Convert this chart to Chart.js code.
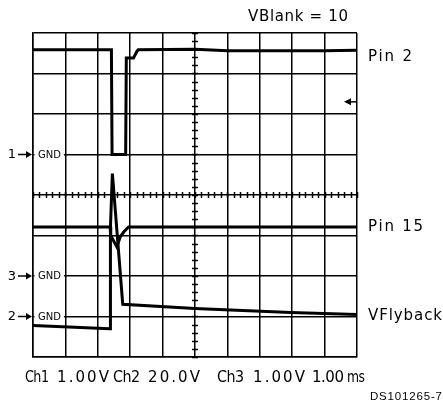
<!DOCTYPE html>
<html><head><meta charset="utf-8">
<script src="https://cdn.jsdelivr.net/npm/chart.js@4.4.0/dist/chart.umd.min.js"></script>
<style>html,body{margin:0;padding:0;background:#fff;}canvas{display:block;}</style>
</head><body>
<canvas id="c" width="443" height="401"></canvas>
<script>
// Oscilloscope traces, in screen divisions (x: 0..10, y: -4..4, 0 = centre line)
const pin2X = [0, 2.42, 2.44, 2.86, 2.88, 3.10, 3.21, 3.25, 5.0, 6.0, 9.0, 10];
const pin2Y = [3.585, 3.585, 1.0, 1.0, 3.38, 3.38, 3.55, 3.585, 3.60, 3.56, 3.56, 3.575];

const pin15X = [0, 2.38, 2.40, 2.59, 2.69, 2.80, 2.95, 10];
const pin15Y = [-0.79, -0.79, -1.0, -1.284, -1.037, -0.914, -0.79, -0.79];

const flyX = [0, 2.37, 2.39, 2.39, 2.45, 2.77, 5.0, 7.95, 10];
const flyY = [-3.225, -3.30, -3.30, -0.80, 0.53, -2.70, -2.80, -2.90, -2.95];

const seriesNames = ['Pin 2', 'Pin 15', 'VFlyback'];
const gndChannels = ['1', '3', '2'];
const gndLevels = [1, -2, -3];
const triggerLevel = 2.3;
const headerText = 'VBlank = 10';
const scopeSettings = ['Ch1', '1.00V', 'Ch2', '20.0V', 'Ch3', '1.00V', '1.00', 'ms'];
const figureId = 'DS101265-7';

function pts(xs, ys) { return xs.map((x, i) => ({x, y: ys[i]})); }

// draw text fitted to a width: letter spacing first, slight horizontal squeeze if needed
function fitText(ctx, text, x, y, w) {
  ctx.save();
  ctx.letterSpacing = '0px';
  const m = ctx.measureText(text).width;
  const n = Math.max(1, text.length - 1);
  let sp = (w - m) / n;
  let s = 1;
  if (sp < -0.6) { sp = -0.6; s = w / (m + sp * n); }
  ctx.letterSpacing = sp.toFixed(2) + 'px';
  ctx.translate(x, y);
  ctx.scale(s, 1);
  ctx.fillText(text, 0, 0);
  ctx.restore();
}

const scopePlugin = {
  id: 'scope',
  beforeDatasetsDraw(chart) {
    const ctx = chart.ctx, xs = chart.scales.x, ys = chart.scales.y;
    ctx.save();
    ctx.strokeStyle = '#000';
    ctx.lineWidth = 1.5;
    const cx = xs.getPixelForValue(5), cy = ys.getPixelForValue(0);
    ctx.beginPath();
    for (let v = -4; v <= 4.001; v += 0.2) {
      const p = Math.round(ys.getPixelForValue(v)) + 0.5;
      ctx.moveTo(cx - 3, p); ctx.lineTo(cx + 3, p);
    }
    for (let v = 0; v <= 10.001; v += 0.2) {
      const p = Math.round(xs.getPixelForValue(v)) + 0.5;
      ctx.moveTo(p, cy - 3); ctx.lineTo(p, cy + 3);
    }
    ctx.stroke();
    ctx.restore();
  },
  afterDatasetsDraw(chart) {
    const ctx = chart.ctx, xs = chart.scales.x, ys = chart.scales.y, ca = chart.chartArea;
    ctx.save();
    ctx.fillStyle = '#000';
    ctx.strokeStyle = '#000';
    // GND markers
    gndLevels.forEach((lv, i) => {
      const y = ys.getPixelForValue(lv);
      const x1 = xs.getPixelForValue(1);
      ctx.fillStyle = '#fff';
      ctx.fillRect(ca.left + 1.5, y - 5, x1 - ca.left - 3, 10);
      ctx.fillStyle = '#000';
      ctx.font = '10px "DejaVu Sans"';
      ctx.textBaseline = 'middle';
      ctx.textAlign = 'left';
      ctx.fillText('GND', ca.left + 5, y + 0.5);
      ctx.font = '13px "DejaVu Sans"';
      ctx.textAlign = 'right';
      ctx.fillText(gndChannels[i], 16, y + 0.5);
      ctx.lineWidth = 1.5;
      ctx.beginPath(); ctx.moveTo(18, y); ctx.lineTo(27, y); ctx.stroke();
      ctx.beginPath(); ctx.moveTo(ca.left - 1, y); ctx.lineTo(26, y - 3.5); ctx.lineTo(26, y + 3.5); ctx.closePath(); ctx.fill();
    });
    // trigger marker
    const ty = ys.getPixelForValue(triggerLevel);
    ctx.lineWidth = 1.5;
    ctx.beginPath(); ctx.moveTo(349, ty); ctx.lineTo(ca.right - 1, ty); ctx.stroke();
    ctx.beginPath(); ctx.moveTo(344, ty); ctx.lineTo(351, ty - 3.5); ctx.lineTo(351, ty + 3.5); ctx.closePath(); ctx.fill();
    // series labels
    ctx.font = '15px "DejaVu Sans"';
    ctx.textAlign = 'left';
    ctx.textBaseline = 'middle';
    const labelLevels = [3.41, -0.79, -2.99];
    const labelWidths = [44, 55, 74];
    seriesNames.forEach((n, i) => {
      fitText(ctx, n, ca.right + 11, ys.getPixelForValue(labelLevels[i]), labelWidths[i]);
    });
    // header
    fitText(ctx, headerText, 248, 17, 100);
    // scope settings
    const sx = [25, 57, 113, 148, 217, 253, 312, 347];
    const sw = [24, 52, 27, 52, 27, 52, 32, 18];
    ctx.font = '15px "DejaVu Sans"';
    scopeSettings.forEach((t, i) => fitText(ctx, t, sx[i], 378, sw[i]));
    ctx.font = '11.5px "Liberation Sans"';
    fitText(ctx, figureId, 370, 397, 72);
    ctx.restore();
  }
};

const traceStyle = {borderColor: '#000', borderWidth: 3, pointRadius: 0, showLine: true, fill: false, tension: 0, borderJoinStyle: 'miter', borderCapStyle: 'butt'};

new Chart(document.getElementById('c'), {
  type: 'scatter',
  data: {
    datasets: [
      Object.assign({label: seriesNames[0], data: pts(pin2X, pin2Y)}, traceStyle),
      Object.assign({label: seriesNames[1], data: pts(pin15X, pin15Y)}, traceStyle),
      Object.assign({label: seriesNames[2], data: pts(flyX, flyY)}, traceStyle)
    ]
  },
  options: {
    responsive: false,
    animation: false,
    devicePixelRatio: 1,
    layout: {padding: {left: 33, top: 33, right: 86, bottom: 44}},
    plugins: {legend: {display: false}, tooltip: {enabled: false}},
    scales: {
      x: {type: 'linear', min: 0, max: 10,
          ticks: {display: false, stepSize: 1},
          grid: {color: '#000', lineWidth: 1.5, drawTicks: false},
          border: {color: '#000', width: 1.5}},
      y: {type: 'linear', min: -4, max: 4,
          ticks: {display: false, stepSize: 1},
          grid: {color: '#000', lineWidth: 1.5, drawTicks: false},
          border: {color: '#000', width: 1.5}}
    }
  },
  plugins: [scopePlugin]
});
</script>
</body></html>
